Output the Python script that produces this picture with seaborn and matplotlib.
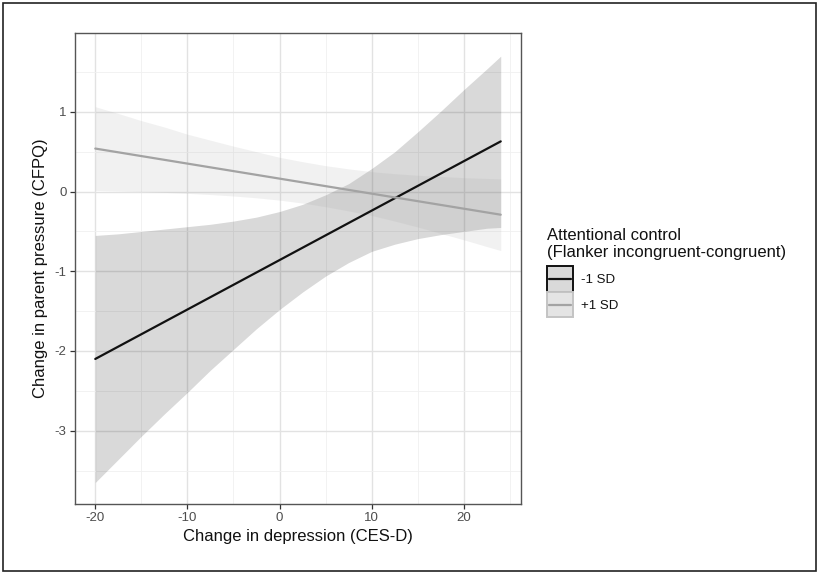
import numpy as np
import pandas as pd
import matplotlib
matplotlib.use("Agg")
import matplotlib.pyplot as plt
import seaborn as sns
from matplotlib.patches import Rectangle
from matplotlib.lines import Line2D
from matplotlib.legend_handler import HandlerBase

# ---- data ----
groups = ["-1 SD", "+1 SD"]
line_x = [-20, 24]
line_low_sd = [-2.10, 0.63]
line_high_sd = [0.54, -0.29]

band_x = [-20, -17.5, -15, -12.5, -10, -7.5, -5, -2.5, 0, 2.5,
          5, 7.5, 10, 12.5, 15, 17.5, 20, 22.5, 24]
low_sd_upper = [-0.55, -0.53, -0.50, -0.47, -0.44, -0.41, -0.37, -0.32, -0.25, -0.16,
                -0.04, 0.10, 0.29, 0.50, 0.75, 1.01, 1.28, 1.54, 1.70]
low_sd_lower = [-3.65, -3.36, -3.07, -2.79, -2.52, -2.24, -1.98, -1.72, -1.48, -1.26,
                -1.06, -0.89, -0.75, -0.66, -0.59, -0.54, -0.50, -0.46, -0.45]
high_sd_upper = [1.065, 0.98, 0.89, 0.81, 0.72, 0.645, 0.57, 0.50, 0.43, 0.375,
                 0.325, 0.285, 0.25, 0.225, 0.205, 0.19, 0.175, 0.165, 0.16]
high_sd_lower = [0.015, 0.008, 0.00, -0.01, -0.022, -0.037, -0.055, -0.078, -0.107, -0.144,
                 -0.19, -0.243, -0.30, -0.37, -0.445, -0.525, -0.605, -0.69, -0.74]

x_ticks = [-20, -10, 0, 10, 20]
y_ticks = [1, 0, -1, -2, -3]

line_colors = {"-1 SD": "#111111", "+1 SD": "#a3a3a3"}
band_colors = {"-1 SD": "#000000", "+1 SD": "#a3a3a3"}
key_face = {"-1 SD": "#d9d9d9", "+1 SD": "#e4e4e4"}
key_edge = {"-1 SD": "#111111", "+1 SD": "#c4c4c4"}

df = pd.DataFrame({
    "x": line_x * 2,
    "y": line_low_sd + line_high_sd,
    "group": [groups[0]] * 2 + [groups[1]] * 2,
})

sns.set_theme(style="whitegrid")
plt.rcParams["font.family"] = ["Liberation Sans", "DejaVu Sans"]

fig = plt.figure(figsize=(8.19, 5.74), dpi=100)
ax = fig.add_axes([75 / 819, 1 - 504 / 574, (521 - 75) / 819, (504 - 33) / 574])
ax.set_facecolor("white")

alpha = 0.15
ax.fill_between(band_x, low_sd_lower, low_sd_upper, color=band_colors["-1 SD"],
                alpha=alpha, linewidth=0, zorder=2)
ax.fill_between(band_x, high_sd_lower, high_sd_upper, color=band_colors["+1 SD"],
                alpha=alpha, linewidth=0, zorder=2)

sns.lineplot(data=df, x="x", y="y", hue="group", palette=line_colors,
             linewidth=1.6, ax=ax, legend=False, zorder=3)

ax.set_xlim(-22.2, 26.2)
ax.set_ylim(-3.92, 1.99)
ax.set_xticks(x_ticks)
ax.set_yticks(y_ticks)
ax.set_xticklabels([str(v) for v in x_ticks])
ax.set_yticklabels([str(v) for v in y_ticks])
ax.set_xticks([-15, -5, 5, 15, 25], minor=True)
ax.set_yticks([1.5, 0.5, -0.5, -1.5, -2.5, -3.5], minor=True)
ax.grid(which="major", color="#e2e2e2", linewidth=1.0, zorder=0)
ax.grid(which="minor", color="#f0f0f0", linewidth=0.6, zorder=0)
ax.set_axisbelow(True)

for s in ax.spines.values():
    s.set_visible(True)
    s.set_color("#555555")
    s.set_linewidth(1.0)

ax.tick_params(axis="both", which="major", length=3.5, width=0.9, color="#333333",
               labelsize=9.5, labelcolor="#4d4d4d", pad=2.5, bottom=True, left=True)
ax.tick_params(axis="both", which="minor", length=0, bottom=False, left=False)

ax.set_xlabel("Change in depression (CES-D)", fontsize=12, color="#111111", labelpad=3)
ax.set_ylabel("Change in parent pressure (CFPQ)", fontsize=12, color="#111111", labelpad=5)


class KeyHandler(HandlerBase):
    def create_artists(self, legend, orig_handle, xdescent, ydescent,
                       width, height, fontsize, trans):
        g = orig_handle.get_label()
        side = width
        cy = -ydescent + height / 2
        rect = Rectangle((-xdescent, cy - side / 2), side, side,
                         facecolor=key_face[g], edgecolor=key_edge[g],
                         linewidth=1.4, transform=trans)
        ln = Line2D([-xdescent + 1.5, -xdescent + side - 1.5], [cy, cy],
                    color=line_colors[g], linewidth=1.6, transform=trans)
        return [rect, ln]


handles = [Line2D([], [], color=line_colors[g], label=g) for g in groups]
leg = fig.legend(handles, groups,
                 title="Attentional control\n(Flanker incongruent-congruent)",
                 loc="upper left", bbox_to_anchor=(547 / 819, 1 - 228 / 574),
                 frameon=False, fontsize=9.5, title_fontsize=12,
                 handlelength=1.95, handleheight=1.95, handletextpad=0.65,
                 labelspacing=0.45, borderaxespad=0, borderpad=0,
                 handler_map={Line2D: KeyHandler()})
leg._legend_box.align = "left"
leg._legend_box.sep = 6
for t in leg.get_texts():
    t.set_color("#111111")
leg.get_title().set_color("#111111")

# outer frame around the whole figure
fig.patches.append(Rectangle((3 / 819, 3 / 574), 1 - 6 / 819, 1 - 6 / 574,
                             transform=fig.transFigure, fill=False,
                             edgecolor="#222222", linewidth=1.2))

fig.savefig("out.png", dpi=100, facecolor="white")
